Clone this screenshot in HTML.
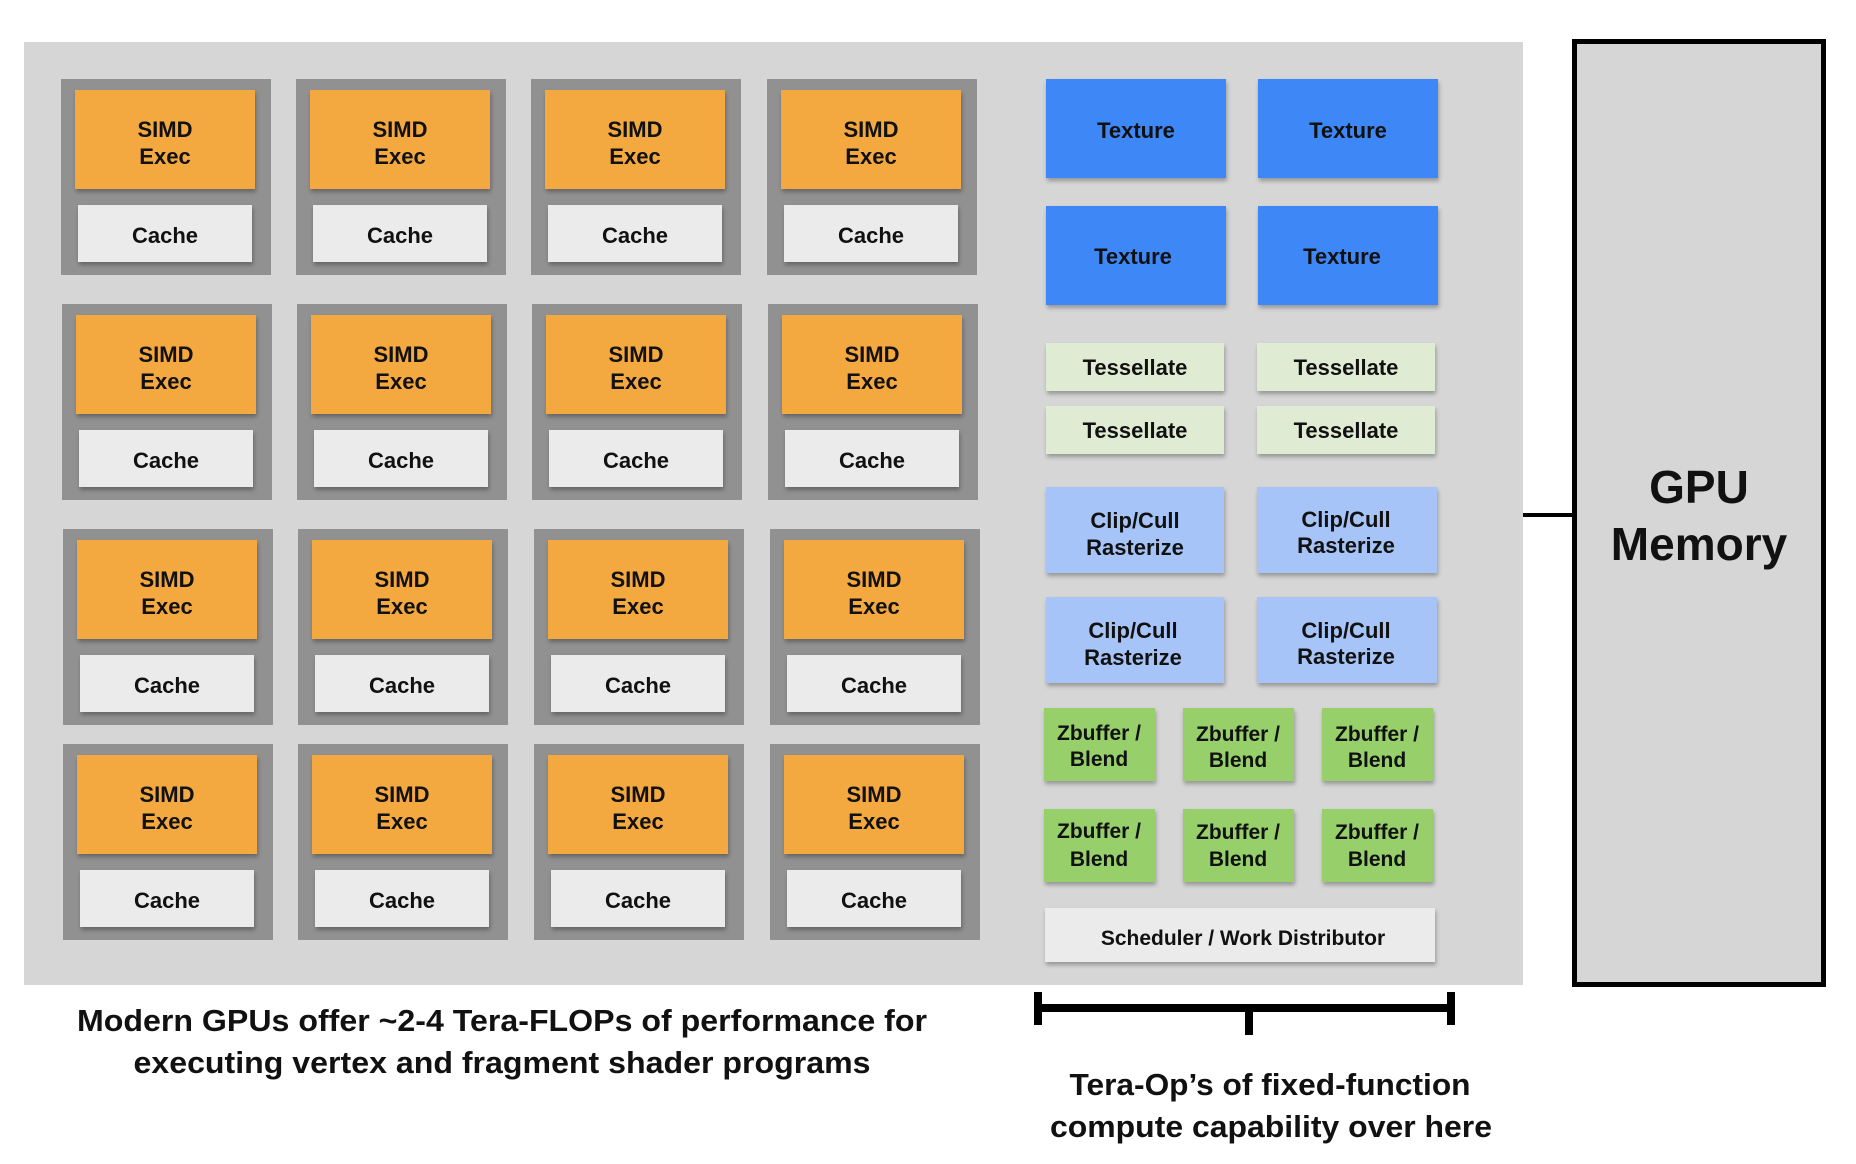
<!DOCTYPE html>
<html><head><meta charset="utf-8"><style>
html,body{margin:0;padding:0;background:#fff;}
svg{display:block;}
text{font-family:"Liberation Sans",sans-serif;font-weight:bold;fill:#111;text-anchor:middle;}
</style></head><body>
<svg width="1856" height="1164" viewBox="0 0 1856 1164" xmlns="http://www.w3.org/2000/svg">
<defs>
<filter id="sh" x="-10%" y="-10%" width="130%" height="140%">
<feDropShadow dx="1" dy="3" stdDeviation="2" flood-color="#000" flood-opacity="0.3"/>
</filter>
</defs>
<rect x="24" y="42" width="1499" height="943" fill="#d6d6d6"/>
<g font-size="22">
<g transform="translate(61,79)"><rect width="210" height="196" fill="#919191"/><rect x="14" y="11" width="180" height="99" fill="#f3a841" filter="url(#sh)"/><rect x="17" y="126" width="174" height="57" fill="#ebebeb" filter="url(#sh)"/><text x="104" y="58">SIMD</text><text x="104" y="85">Exec</text><text x="104" y="164">Cache</text></g>
<g transform="translate(296,79)"><rect width="210" height="196" fill="#919191"/><rect x="14" y="11" width="180" height="99" fill="#f3a841" filter="url(#sh)"/><rect x="17" y="126" width="174" height="57" fill="#ebebeb" filter="url(#sh)"/><text x="104" y="58">SIMD</text><text x="104" y="85">Exec</text><text x="104" y="164">Cache</text></g>
<g transform="translate(531,79)"><rect width="210" height="196" fill="#919191"/><rect x="14" y="11" width="180" height="99" fill="#f3a841" filter="url(#sh)"/><rect x="17" y="126" width="174" height="57" fill="#ebebeb" filter="url(#sh)"/><text x="104" y="58">SIMD</text><text x="104" y="85">Exec</text><text x="104" y="164">Cache</text></g>
<g transform="translate(767,79)"><rect width="210" height="196" fill="#919191"/><rect x="14" y="11" width="180" height="99" fill="#f3a841" filter="url(#sh)"/><rect x="17" y="126" width="174" height="57" fill="#ebebeb" filter="url(#sh)"/><text x="104" y="58">SIMD</text><text x="104" y="85">Exec</text><text x="104" y="164">Cache</text></g>

<g transform="translate(62,304)"><rect width="210" height="196" fill="#919191"/><rect x="14" y="11" width="180" height="99" fill="#f3a841" filter="url(#sh)"/><rect x="17" y="126" width="174" height="57" fill="#ebebeb" filter="url(#sh)"/><text x="104" y="58">SIMD</text><text x="104" y="85">Exec</text><text x="104" y="164">Cache</text></g>
<g transform="translate(297,304)"><rect width="210" height="196" fill="#919191"/><rect x="14" y="11" width="180" height="99" fill="#f3a841" filter="url(#sh)"/><rect x="17" y="126" width="174" height="57" fill="#ebebeb" filter="url(#sh)"/><text x="104" y="58">SIMD</text><text x="104" y="85">Exec</text><text x="104" y="164">Cache</text></g>
<g transform="translate(532,304)"><rect width="210" height="196" fill="#919191"/><rect x="14" y="11" width="180" height="99" fill="#f3a841" filter="url(#sh)"/><rect x="17" y="126" width="174" height="57" fill="#ebebeb" filter="url(#sh)"/><text x="104" y="58">SIMD</text><text x="104" y="85">Exec</text><text x="104" y="164">Cache</text></g>
<g transform="translate(768,304)"><rect width="210" height="196" fill="#919191"/><rect x="14" y="11" width="180" height="99" fill="#f3a841" filter="url(#sh)"/><rect x="17" y="126" width="174" height="57" fill="#ebebeb" filter="url(#sh)"/><text x="104" y="58">SIMD</text><text x="104" y="85">Exec</text><text x="104" y="164">Cache</text></g>

<g transform="translate(63,529)"><rect width="210" height="196" fill="#919191"/><rect x="14" y="11" width="180" height="99" fill="#f3a841" filter="url(#sh)"/><rect x="17" y="126" width="174" height="57" fill="#ebebeb" filter="url(#sh)"/><text x="104" y="58">SIMD</text><text x="104" y="85">Exec</text><text x="104" y="164">Cache</text></g>
<g transform="translate(298,529)"><rect width="210" height="196" fill="#919191"/><rect x="14" y="11" width="180" height="99" fill="#f3a841" filter="url(#sh)"/><rect x="17" y="126" width="174" height="57" fill="#ebebeb" filter="url(#sh)"/><text x="104" y="58">SIMD</text><text x="104" y="85">Exec</text><text x="104" y="164">Cache</text></g>
<g transform="translate(534,529)"><rect width="210" height="196" fill="#919191"/><rect x="14" y="11" width="180" height="99" fill="#f3a841" filter="url(#sh)"/><rect x="17" y="126" width="174" height="57" fill="#ebebeb" filter="url(#sh)"/><text x="104" y="58">SIMD</text><text x="104" y="85">Exec</text><text x="104" y="164">Cache</text></g>
<g transform="translate(770,529)"><rect width="210" height="196" fill="#919191"/><rect x="14" y="11" width="180" height="99" fill="#f3a841" filter="url(#sh)"/><rect x="17" y="126" width="174" height="57" fill="#ebebeb" filter="url(#sh)"/><text x="104" y="58">SIMD</text><text x="104" y="85">Exec</text><text x="104" y="164">Cache</text></g>

<g transform="translate(63,744)"><rect width="210" height="196" fill="#919191"/><rect x="14" y="11" width="180" height="99" fill="#f3a841" filter="url(#sh)"/><rect x="17" y="126" width="174" height="57" fill="#ebebeb" filter="url(#sh)"/><text x="104" y="58">SIMD</text><text x="104" y="85">Exec</text><text x="104" y="164">Cache</text></g>
<g transform="translate(298,744)"><rect width="210" height="196" fill="#919191"/><rect x="14" y="11" width="180" height="99" fill="#f3a841" filter="url(#sh)"/><rect x="17" y="126" width="174" height="57" fill="#ebebeb" filter="url(#sh)"/><text x="104" y="58">SIMD</text><text x="104" y="85">Exec</text><text x="104" y="164">Cache</text></g>
<g transform="translate(534,744)"><rect width="210" height="196" fill="#919191"/><rect x="14" y="11" width="180" height="99" fill="#f3a841" filter="url(#sh)"/><rect x="17" y="126" width="174" height="57" fill="#ebebeb" filter="url(#sh)"/><text x="104" y="58">SIMD</text><text x="104" y="85">Exec</text><text x="104" y="164">Cache</text></g>
<g transform="translate(770,744)"><rect width="210" height="196" fill="#919191"/><rect x="14" y="11" width="180" height="99" fill="#f3a841" filter="url(#sh)"/><rect x="17" y="126" width="174" height="57" fill="#ebebeb" filter="url(#sh)"/><text x="104" y="58">SIMD</text><text x="104" y="85">Exec</text><text x="104" y="164">Cache</text></g>
</g>
<g font-size="22">
<rect x="1046" y="79" width="180" height="99" fill="#3e87f6" filter="url(#sh)"/>
<rect x="1258" y="79" width="180" height="99" fill="#3e87f6" filter="url(#sh)"/>
<rect x="1046" y="206" width="180" height="99" fill="#3e87f6" filter="url(#sh)"/>
<rect x="1258" y="206" width="180" height="99" fill="#3e87f6" filter="url(#sh)"/>
<text x="1136" y="138">Texture</text><text x="1348" y="138">Texture</text>
<text x="1133" y="264">Texture</text><text x="1342" y="264">Texture</text>
<rect x="1046" y="343" width="178" height="48" fill="#e0ebd4" filter="url(#sh)"/>
<rect x="1257" y="343" width="178" height="48" fill="#e0ebd4" filter="url(#sh)"/>
<rect x="1046" y="406" width="178" height="48" fill="#e0ebd4" filter="url(#sh)"/>
<rect x="1257" y="406" width="178" height="48" fill="#e0ebd4" filter="url(#sh)"/>
<text x="1135" y="375">Tessellate</text><text x="1346" y="375">Tessellate</text>
<text x="1135" y="438">Tessellate</text><text x="1346" y="438">Tessellate</text>
<rect x="1046" y="487" width="178" height="86" fill="#a6c4f8" filter="url(#sh)"/>
<rect x="1257" y="487" width="180" height="86" fill="#a6c4f8" filter="url(#sh)"/>
<rect x="1046" y="597" width="178" height="86" fill="#a6c4f8" filter="url(#sh)"/>
<rect x="1257" y="597" width="180" height="86" fill="#a6c4f8" filter="url(#sh)"/>
<text x="1135" y="528">Clip/Cull</text><text x="1135" y="555">Rasterize</text>
<text x="1346" y="527">Clip/Cull</text><text x="1346" y="553">Rasterize</text>
<text x="1133" y="638">Clip/Cull</text><text x="1133" y="665">Rasterize</text>
<text x="1346" y="638">Clip/Cull</text><text x="1346" y="664">Rasterize</text>
</g>
<g font-size="21">
<rect x="1044" y="708" width="111" height="73" fill="#97d06a" filter="url(#sh)"/>
<rect x="1183" y="708" width="111" height="73" fill="#97d06a" filter="url(#sh)"/>
<rect x="1322" y="708" width="111" height="73" fill="#97d06a" filter="url(#sh)"/>
<rect x="1044" y="809" width="111" height="73" fill="#97d06a" filter="url(#sh)"/>
<rect x="1183" y="809" width="111" height="73" fill="#97d06a" filter="url(#sh)"/>
<rect x="1322" y="809" width="111" height="73" fill="#97d06a" filter="url(#sh)"/>
<text x="1099" y="740">Zbuffer /</text><text x="1099" y="766">Blend</text>
<text x="1238" y="741">Zbuffer /</text><text x="1238" y="767">Blend</text>
<text x="1377" y="741">Zbuffer /</text><text x="1377" y="767">Blend</text>
<text x="1099" y="838">Zbuffer /</text><text x="1099" y="866">Blend</text>
<text x="1238" y="839">Zbuffer /</text><text x="1238" y="866">Blend</text>
<text x="1377" y="839">Zbuffer /</text><text x="1377" y="866">Blend</text>
<rect x="1045" y="908" width="390" height="54" fill="#ebebeb" filter="url(#sh)"/>
<text x="1243" y="945">Scheduler / Work Distributor</text>
</g>
<rect x="1574.5" y="41.5" width="249" height="943" fill="#d6d6d6" stroke="#000" stroke-width="5"/>
<line x1="1523" y1="515" x2="1574" y2="515" stroke="#000" stroke-width="4"/>
<text x="1699" y="503" font-size="46">GPU</text>
<text x="1699" y="560" font-size="46">Memory</text>
<g fill="#000">
<rect x="1034" y="992" width="8" height="33"/>
<rect x="1447" y="992" width="8" height="33"/>
<rect x="1034" y="1004" width="421" height="8"/>
<rect x="1245" y="1004" width="8" height="31"/>
</g>
<g font-size="31">
<text x="502" y="1031" textLength="850" lengthAdjust="spacingAndGlyphs">Modern GPUs offer ~2-4 Tera-FLOPs of performance for</text>
<text x="502" y="1073" textLength="737" lengthAdjust="spacingAndGlyphs">executing vertex and fragment shader programs</text>
<text x="1270" y="1095" textLength="401" lengthAdjust="spacingAndGlyphs">Tera-Op’s of fixed-function</text>
<text x="1271" y="1137" textLength="442" lengthAdjust="spacingAndGlyphs">compute capability over here</text>
</g>
</svg>
</body></html>
